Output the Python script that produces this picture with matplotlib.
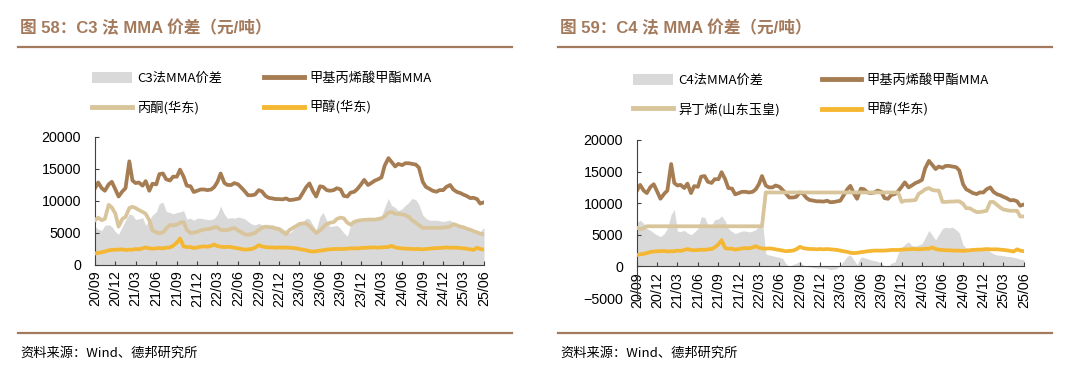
import matplotlib
matplotlib.use("Agg")
import matplotlib.pyplot as plt
import matplotlib.dates as mdates
from matplotlib.lines import Line2D
from matplotlib.patches import Patch
import pandas as pd

plt.rcParams['font.family'] = ['Liberation Sans', 'Noto Sans CJK SC', 'DejaVu Sans']

# ---------------- data (semi-monthly, 2020-09 .. 2025-06) ----------------
dates = pd.date_range('2020-09-01', periods=115, freq='SMS')

mma = [12000, 12900, 12000, 11600, 12600, 13000, 11800, 10700, 11500, 12000,
       16200, 13200, 12800, 12900, 12400, 13100, 11600, 12700, 12600, 14200,
       14300, 13400, 13200, 13800, 13800, 14900, 13800, 12400, 12300, 11400,
       11600, 11800, 11800, 11700, 11800, 12200, 13000, 14300, 12800, 12500,
       12500, 12800, 12600, 12100, 11500, 10900, 10900, 11000, 11700, 11500,
       10800, 10500, 10400, 10300, 10300, 10250, 10400, 10150, 10200, 10300,
       10400, 11200, 12200, 12750, 11500, 10700, 12300, 12200, 11700, 11600,
       11700, 12000, 11800, 10800, 10700, 11300, 11450, 11900, 12600, 13300,
       12500, 12800, 13200, 13400, 13700, 15500, 16700, 16100, 15400, 15800,
       15600, 15900, 15900, 15800, 15700, 15200, 13000, 12200, 11900, 11600,
       11450, 11700, 11700, 12200, 12500, 11800, 11400, 11250, 11000, 10800,
       10450, 10500, 10300, 9600, 9800]

methanol = [1800, 1900, 2000, 2100, 2300, 2350, 2400, 2400, 2450, 2350,
            2400, 2400, 2500, 2450, 2600, 2750, 2600, 2550, 2600, 2650,
            2600, 2700, 2750, 3000, 3500, 4150, 2900, 2800, 2800, 2650,
            2750, 2850, 2900, 2850, 3000, 3200, 2950, 2850, 2800, 2850,
            2800, 2700, 2600, 2500, 2400, 2450, 2500, 2700, 3100, 2900,
            2800, 2750, 2750, 2700, 2750, 2700, 2750, 2700, 2650, 2600,
            2500, 2400, 2300, 2150, 2100, 2150, 2250, 2300, 2400, 2450,
            2500, 2500, 2500, 2500, 2550, 2600, 2600, 2600, 2650, 2700,
            2700, 2750, 2750, 2700, 2750, 2800, 2800, 3000, 2750, 2650,
            2600, 2550, 2550, 2500, 2500, 2500, 2450, 2500, 2550, 2600,
            2650, 2650, 2700, 2750, 2700, 2700, 2700, 2650, 2600, 2550,
            2450, 2350, 2700, 2500, 2400]

acetone = [7000, 7400, 7000, 7200, 9400, 9000, 8000, 6000, 7200, 7500,
           8900, 9100, 8900, 8600, 8300, 8000, 7000, 5400, 5100, 4950,
           5100, 5700, 6250, 6200, 6300, 6600, 6700, 5500, 5000, 5050,
           5200, 5400, 5550, 5600, 5700, 5900, 5900, 5500, 5450, 5450,
           5650, 5800, 5400, 5100, 4800, 4700, 4850, 5000, 5500, 5800,
           6000, 5950, 5850, 5700, 5600, 5200, 4800, 5450, 5800, 6100,
           6400, 6500, 6500, 6100, 5500, 5000, 5400, 5900, 6400, 6600,
           6700, 7200, 7400, 7300, 6600, 6300, 6750, 6900, 7000, 7050,
           7100, 7100, 7100, 7200, 7300, 7600, 8200, 8300, 8000, 8000,
           7900, 7800, 7500, 7000, 6600, 6200, 5800, 5800, 5800, 5800,
           5800, 5800, 5850, 5900, 6000, 6400, 6200, 6000, 5900, 5700,
           5500, 5300, 5100, 4900, 4800]

c3_spread = [6000, 5600, 5400, 6200, 6300, 6000, 5200, 4800, 6000, 7000,
             8000, 7800, 7100, 7200, 7400, 6200, 7000, 7800, 8300, 9600,
             9800, 8400, 8200, 8000, 8200, 8300, 8500, 7200, 7300, 7000,
             7300, 7300, 7200, 7100, 7100, 7300, 7900, 9200, 7900, 7300,
             7400, 7300, 7500, 7400, 7200, 6800, 6400, 6250, 6500, 6300,
             6100, 6000, 6300, 6100, 6000, 5700, 5400, 4950, 5500, 6000,
             6400, 6750, 7300, 7200, 6200, 5500, 7600, 8200, 6900, 6000,
             6100, 6200, 5700, 5000, 4500, 6200, 6700, 6800, 6850, 6900,
             7000, 7050, 7100, 7300, 7600, 9000, 10400, 9300, 9000, 8500,
             8800, 9300, 9800, 10400, 10200, 9400, 7800, 7300, 7000, 7000,
             7000, 6900, 6800, 6900, 7000, 6500, 6250, 6100, 6000, 5900,
             5700, 5400, 5000, 5200, 5900]

isobutene = [6100, 5900, 6050, 6350, 6350, 6350, 6350, 6350, 6350, 6350,
             6350, 6350, 6350, 6350, 6350, 6350, 6350, 6350, 6350, 6350,
             6350, 6350, 6350, 6350, 6350, 6350, 6350, 6350, 6350, 6350,
             6350, 6350, 6350, 6350, 6350, 6350, 6350, 6350, 11700, 11700,
             11700, 11700, 11700, 11700, 11700, 11700, 11700, 11700, 11700, 11700,
             11700, 11700, 11700, 11700, 11700, 11700, 11700, 11700, 11700, 11700,
             11700, 11700, 11700, 11700, 11700, 11700, 11700, 11700, 11700, 11700,
             11700, 11700, 11700, 11700, 11700, 11700, 11700, 11700, 10200, 10400,
             10400, 10450, 10500, 11500, 11800, 12200, 12400, 12100, 12000, 12000,
             10200, 10200, 10250, 10250, 10300, 10300, 9900, 9200, 9200, 8900,
             8600, 8600, 8700, 8800, 10200, 10200, 9700, 9300, 9000, 8900,
             8800, 8800, 8800, 7900, 7900]

c4_spread = [7000, 7300, 6800, 6000, 5700, 5300, 4950, 4700, 5200, 6000,
             8200, 9000, 5600, 5500, 5700, 5300, 5000, 5400, 6000, 7800,
             7800, 6600, 6500, 7400, 7500, 8000, 7200, 6000, 5500, 5200,
             5400, 5600, 5600, 5450, 5600, 5800, 6400, 7800, 2000, 1800,
             1700, 1550, 1450, 1300, 400, 0, 300, 500, 800, 250,
             0, -100, -200, -250, -250, -250, -300, -500, -450, -300,
             200, 800, 1600, 1800, 1000, 300, 1500, 1400, 1200, 1050,
             900, 800, 500, 100, -100, 500, 700, 2100, 3000, 3500,
             3900, 3300, 3200, 3400, 3600, 4500, 5700, 5000, 4200, 5000,
             6000, 6200, 6100, 6200, 5800, 5300, 3400, 2900, 2900, 3000,
             2900, 2850, 2850, 2700, 2300, 2000, 1800, 1750, 1700, 1600,
             1550, 1450, 1300, 1150, 1050]

tick_dates = pd.date_range('2020-09-01', '2025-06-01', freq='3MS')

left_labels = ['C3法MMA价差', '丙酮(华东)', '甲基丙烯酸甲酯MMA', '甲醇(华东)']
right_labels = ['C4法MMA价差', '异丁烯(山东玉皇)', '甲基丙烯酸甲酯MMA', '甲醇(华东)']
titles = ['图 58：C3 法 MMA 价差（元/吨）', '图 59：C4 法 MMA 价差（元/吨）']
source = '资料来源：Wind、德邦研究所'

# ---------------- style ----------------
C_MMA = '#A67C52'
C_TAN = '#D9C59B'
C_MEOH = '#F5B731'
C_GRAY = '#D9D9D9'
C_TITLE = '#A47A5C'
C_AXIS = '#404040'

W, H = 1080, 375
fig = plt.figure(figsize=(W / 100, H / 100), dpi=100)


def fx(px):
    return px / W


def fy(py):
    return 1 - py / H


def make_panel(x0, x1, ytop, ybot, ymin, ymax, spread, second, labels,
               title, tx, lx, ly, neg_axis):
    ax = fig.add_axes([fx(x0), fy(ybot), fx(x1 - x0), fy(ytop) - fy(ybot)])
    ax.fill_between(dates, 0, spread, color=C_GRAY, lw=0, zorder=1)
    ax.plot(dates, mma, color=C_MMA, lw=2.7, zorder=2)
    ax.plot(dates, second, color=C_TAN, lw=2.7, zorder=3)
    ax.plot(dates, methanol, color=C_MEOH, lw=2.7, zorder=4)
    ax.set_xlim(dates[0], dates[-1])
    ax.set_ylim(ymin, ymax)
    ax.set_yticks(range(ymin, ymax + 1, 5000))
    ax.set_xticks(tick_dates)
    ax.xaxis.set_major_formatter(mdates.DateFormatter('%y/%m'))
    for s in ['top', 'right']:
        ax.spines[s].set_visible(False)
    for s in ['left', 'bottom']:
        ax.spines[s].set_color(C_AXIS)
        ax.spines[s].set_linewidth(0.8)
    if neg_axis:
        ax.spines['bottom'].set_position(('data', 0))
    ax.tick_params(axis='both', direction='in', length=3, width=0.8,
                   color=C_AXIS, labelsize=10.3, labelcolor='black')
    ax.tick_params(axis='y', pad=10)
    ax.tick_params(axis='x', pad=4, labelrotation=90)
    ax.patch.set_alpha(0)

    handles = [Patch(facecolor=C_GRAY, edgecolor='none'),
               Line2D([], [], color=C_TAN, lw=3.5),
               Line2D([], [], color=C_MMA, lw=3.5),
               Line2D([], [], color=C_MEOH, lw=3.5)]
    fig.legend(handles, labels, loc='upper left',
               bbox_to_anchor=(fx(lx), fy(ly)), ncol=2, frameon=False,
               prop={'family': ['Noto Sans CJK SC'], 'size': 9.5},
               handlelength=3.0, handleheight=0.9, handletextpad=0.4,
               columnspacing=3.2, labelspacing=1.2, borderaxespad=0,
               borderpad=0)

    fig.text(fx(tx), fy(28), title, color=C_TITLE, fontsize=12,
             fontweight='bold', va='center', ha='left',
             family=['Liberation Sans', 'Noto Sans CJK SC'])
    fig.add_artist(Line2D([fx(tx - 2), fx(tx + 492)], [fy(46.5), fy(46.5)],
                          color=C_TITLE, lw=1.6))
    fig.add_artist(Line2D([fx(tx - 2), fx(tx + 492)], [fy(332.5), fy(332.5)],
                          color=C_TITLE, lw=1.6))
    fig.text(fx(tx), fy(353), source, color='black', fontsize=9.5,
             va='center', ha='left', family=['Noto Sans CJK SC', 'Liberation Sans'])
    return ax


make_panel(95, 484, 137, 265, 0, 20000, c3_spread, acetone, left_labels,
           titles[0], 20, 92, 72, False)
make_panel(637, 1024, 140, 298, -5000, 20000, c4_spread, isobutene, right_labels,
           titles[1], 560, 633, 74, True)

fig.savefig('out.png', dpi=100, facecolor='white')
